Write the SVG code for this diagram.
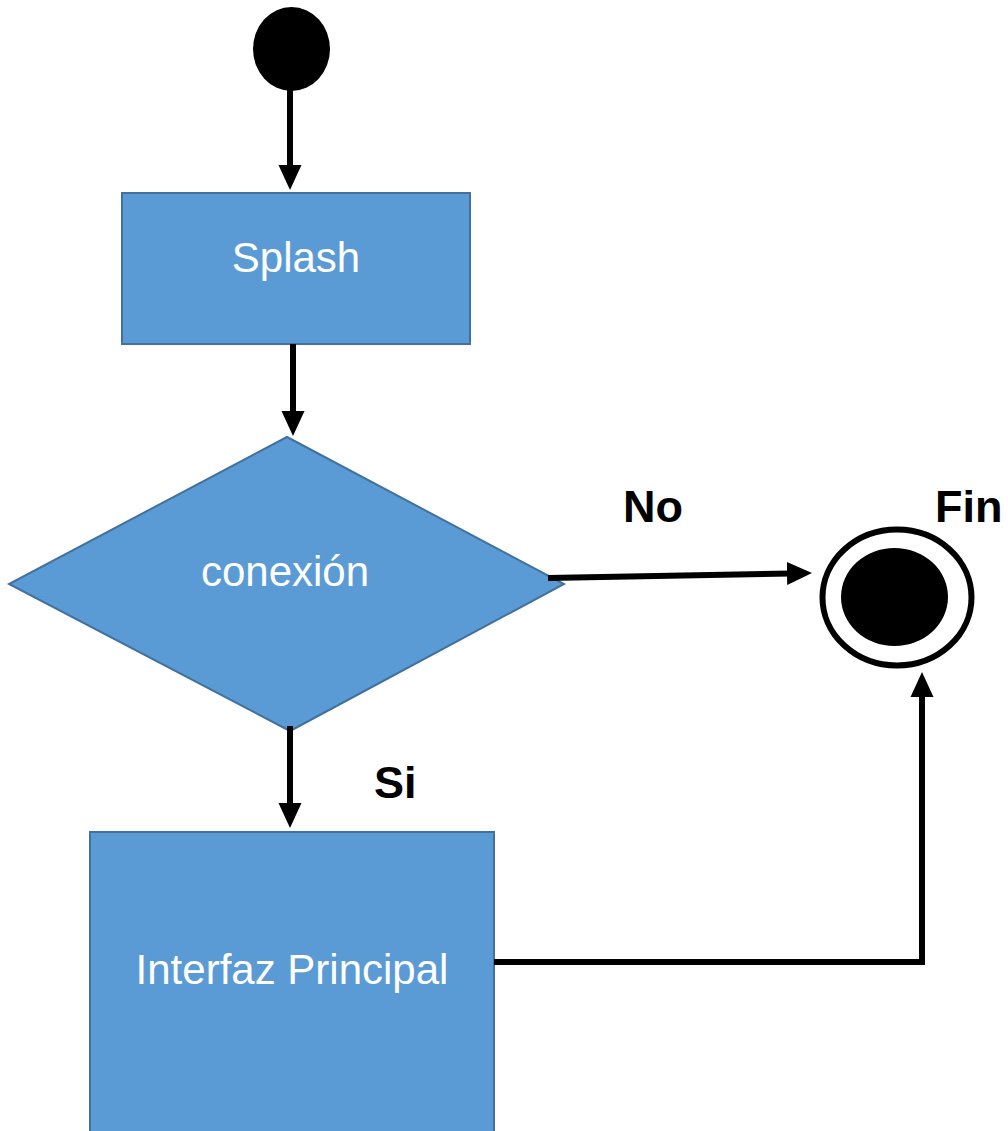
<svg xmlns="http://www.w3.org/2000/svg" width="1008" height="1131" viewBox="0 0 1008 1131">
  <style>
    .shape { fill: #5B9BD5; stroke: #41719C; stroke-width: 2; }
    .ntext { font-family: "Liberation Sans", Arial, sans-serif; font-size: 42px; fill: #FFFFFF; text-anchor: middle; }
    .label { font-family: "Liberation Sans", Arial, sans-serif; font-size: 45px; font-weight: bold; fill: #000000; }
    .conn { fill: none; stroke: #000000; stroke-width: 6; }
  </style>
  <defs>
    <marker id="arrow" markerUnits="userSpaceOnUse" markerWidth="25" markerHeight="24" viewBox="0 0 25 24" refX="4" refY="12" orient="auto">
      <path d="M0,0.5 L25,12 L0,23.5 Z" fill="#000000"/>
    </marker>
  </defs>
  <rect width="1008" height="1131" fill="#FFFFFF"/>

  <g id="start">
    <ellipse cx="291.5" cy="49" rx="38.5" ry="42" fill="#000000"/>
  </g>

  <g id="splash">
    <rect class="shape" x="122" y="193" width="348" height="151"/>
    <text class="ntext" x="296" y="272">Splash</text>
  </g>

  <g id="conexion">
    <polygon class="shape" points="287,437 564,584 290,731 9,584"/>
    <text class="ntext" x="285" y="586">conexión</text>
  </g>

  <g id="interfaz">
    <rect class="shape" x="90" y="832" width="404" height="305"/>
    <text class="ntext" x="292" y="984">Interfaz Principal</text>
  </g>

  <g id="fin">
    <ellipse cx="897" cy="597.5" rx="74.5" ry="68" fill="#FFFFFF" stroke="#000000" stroke-width="6"/>
    <ellipse cx="894.5" cy="597" rx="53.5" ry="49" fill="#000000"/>
  </g>

  <g id="connectors">
    <line class="conn" x1="290" y1="90" x2="290" y2="169" marker-end="url(#arrow)"/>
    <line class="conn" x1="293" y1="344" x2="293" y2="415" marker-end="url(#arrow)"/>
    <line class="conn" x1="290" y1="726" x2="290" y2="807" marker-end="url(#arrow)"/>
    <line class="conn" x1="548" y1="578" x2="791" y2="573.4" marker-end="url(#arrow)"/>
    <path class="conn" d="M494,962 H922 V693" stroke-linejoin="miter" marker-end="url(#arrow)"/>
  </g>

  <g id="labels">
    <text class="label" x="623" y="522">No</text>
    <text class="label" x="935" y="522">Fin</text>
    <text class="label" x="374" y="798">Si</text>
  </g>
</svg>
